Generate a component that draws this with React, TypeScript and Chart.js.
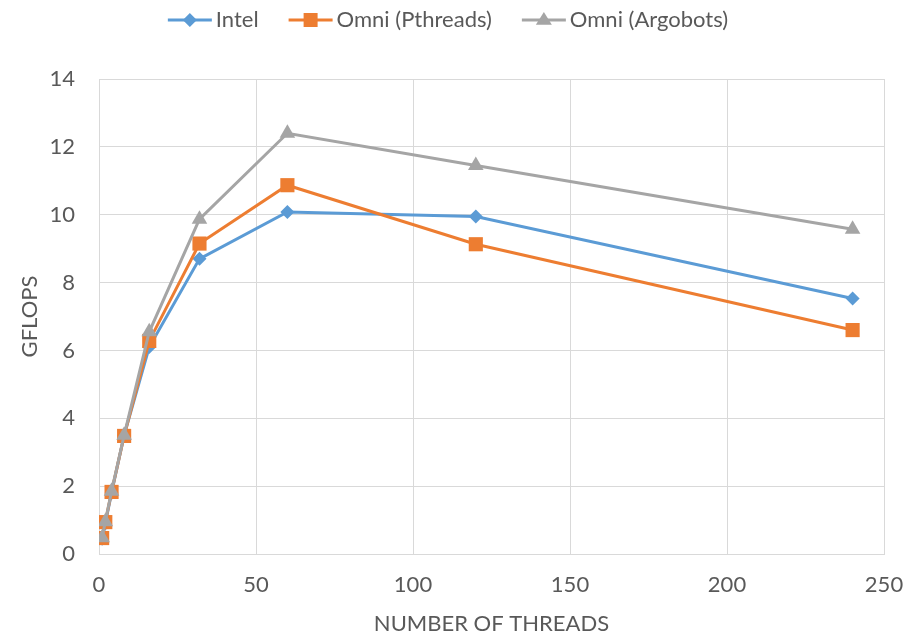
import React, { useEffect, useRef } from "react";
import { Chart, registerables } from "chart.js";

Chart.register(...registerables);

const threads = [1, 2, 4, 8, 16, 32, 60, 120, 240];
const intel = [0.45, 0.9, 1.8, 3.5, 6.1, 8.7, 10.08, 9.95, 7.53];
const pthreads = [0.47, 0.94, 1.83, 3.48, 6.28, 9.15, 10.87, 9.13, 6.6];
const argobots = [0.48, 0.95, 1.85, 3.5, 6.55, 9.87, 12.4, 11.45, 9.57];
const seriesNames = ["Intel", "Omni (Pthreads)", "Omni (Argobots)"];
const seriesColors = ["#5B9BD5", "#ED7D31", "#A5A5A5"];

const FONT = "Lato, 'Liberation Sans', sans-serif";
const TEXT = "#595959";
const GRID = "#D9D9D9";

function drawMarker(ctx: CanvasRenderingContext2D, kind: number, x: number, y: number, color: string) {
  ctx.fillStyle = color;
  ctx.beginPath();
  if (kind === 0) {
    const r = 7;
    ctx.moveTo(x, y - r);
    ctx.lineTo(x + r, y);
    ctx.lineTo(x, y + r);
    ctx.lineTo(x - r, y);
  } else if (kind === 1) {
    const s = 7;
    ctx.rect(x - s, y - s, 2 * s, 2 * s);
  } else {
    const r = 8;
    ctx.moveTo(x, y - r);
    ctx.lineTo(x + r, y + r * 0.6);
    ctx.lineTo(x - r, y + r * 0.6);
  }
  ctx.closePath();
  ctx.fill();
}

const legendPlugin = {
  id: "customLegend",
  afterDraw(chart: any) {
    const ctx: CanvasRenderingContext2D = chart.ctx;
    ctx.save();
    ctx.font = `22px ${FONT}`;
    const lineLen = 44;
    const gap = 4;
    const itemGap = 30;
    const widths = seriesNames.map((n) => lineLen + gap + ctx.measureText(n).width);
    const total = widths.reduce((a, b) => a + b, 0) + itemGap * (seriesNames.length - 1);
    let x = 448 - total / 2;
    const y = 20;
    seriesNames.forEach((name, i) => {
      ctx.strokeStyle = seriesColors[i];
      ctx.lineWidth = 3;
      ctx.beginPath();
      ctx.moveTo(x, y);
      ctx.lineTo(x + lineLen, y);
      ctx.stroke();
      drawMarker(ctx, i, x + lineLen / 2, y, seriesColors[i]);
      ctx.fillStyle = TEXT;
      ctx.textBaseline = "middle";
      ctx.textAlign = "left";
      ctx.fillText(name, x + lineLen + gap, y);
      x += widths[i] + itemGap;
    });
    ctx.restore();
  },
};

export default function App() {
  const ref = useRef<HTMLCanvasElement | null>(null);
  useEffect(() => {
    if (!ref.current) return;
    const mk = (vals: number[]) => threads.map((t, i) => ({ x: t, y: vals[i] }));
    const chart = new Chart(ref.current, {
      type: "line",
      data: {
        datasets: [
          {
            label: seriesNames[0],
            data: mk(intel),
            borderColor: seriesColors[0],
            backgroundColor: seriesColors[0],
            borderWidth: 3,
            pointStyle: "rectRot",
            pointRadius: 7,
            pointBorderWidth: 0,
            order: 3,
          },
          {
            label: seriesNames[1],
            data: mk(pthreads),
            borderColor: seriesColors[1],
            backgroundColor: seriesColors[1],
            borderWidth: 3,
            pointStyle: "rect",
            pointRadius: 10,
            pointBorderWidth: 0,
            order: 2,
          },
          {
            label: seriesNames[2],
            data: mk(argobots),
            borderColor: seriesColors[2],
            backgroundColor: seriesColors[2],
            borderWidth: 3,
            pointStyle: "triangle",
            pointRadius: 9,
            pointBorderWidth: 0,
            order: 1,
          },
        ],
      },
      options: {
        animation: false,
        responsive: false,
        layout: { padding: { top: 79, right: 31, left: 0, bottom: 0 } },
        plugins: { legend: { display: false }, tooltip: { enabled: false } },
        scales: {
          x: {
            type: "linear",
            min: 0,
            max: 250,
            ticks: { stepSize: 50, color: TEXT, font: { family: FONT, size: 22 }, padding: 18, maxRotation: 0 },
            grid: { color: GRID, lineWidth: 1, drawTicks: false },
            border: { color: GRID },
            title: {
              display: true,
              text: "NUMBER OF THREADS",
              color: TEXT,
              font: { family: FONT, size: 22 },
              padding: { top: 0, bottom: 0 },
            },
            afterFit: (s: any) => {
              s.height = 83;
              s.paddingLeft = 0;
              s.paddingRight = 0;
            },
          },
          y: {
            min: 0,
            max: 14,
            ticks: { stepSize: 2, color: TEXT, font: { family: FONT, size: 22 }, padding: 24 },
            grid: { color: GRID, lineWidth: 1, drawTicks: false },
            border: { color: GRID },
            title: {
              display: true,
              text: "GFLOPS",
              color: TEXT,
              font: { family: FONT, size: 22 },
              padding: { top: 17, bottom: 0 },
            },
            afterFit: (s: any) => {
              s.width = 99;
              s.paddingTop = 0;
              s.paddingBottom = 0;
            },
          },
        },
      },
      plugins: [legendPlugin],
    });
    return () => chart.destroy();
  }, []);
  return (
    <div style={{ position: "absolute", left: 0, top: 0, width: 915, height: 637, background: "#fff" }}>
      <canvas ref={ref} width={915} height={637} style={{ display: "block", width: 915, height: 637 }} />
    </div>
  );
}
